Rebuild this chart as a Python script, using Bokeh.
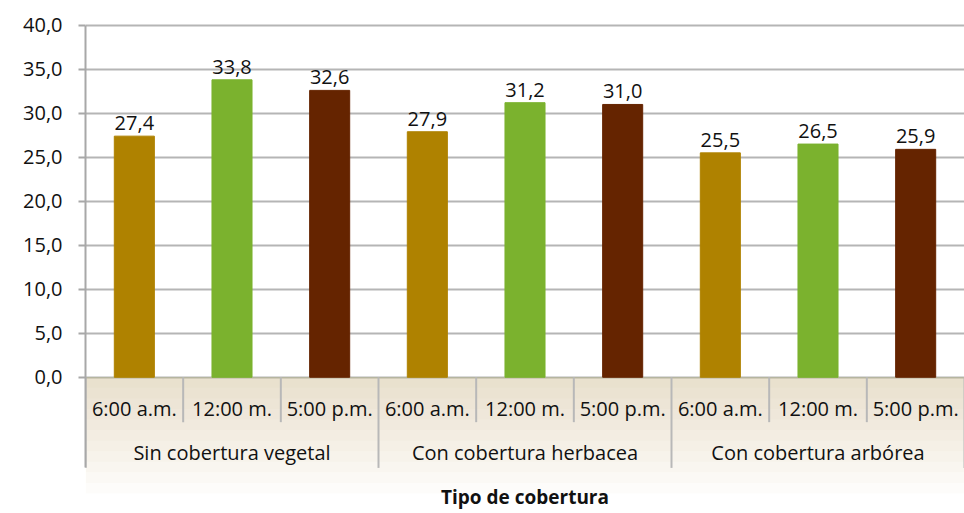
from bokeh.plotting import figure
from bokeh.models import (FactorRange, Range1d, ColumnDataSource, FixedTicker,
                          BoxAnnotation)
from bokeh.transform import dodge
from bokeh.core.properties import value
from bokeh.embed import file_html
from bokeh.resources import INLINE

# ---- data ----
groups = ["Sin cobertura vegetal", "Con cobertura herbacea", "Con cobertura arbórea"]
times = ["6:00 a.m.", "12:00 m.", "5:00 p.m."]
sin_vegetal = [27.4, 33.8, 32.6]
herbacea = [27.9, 31.2, 31.0]
arborea = [25.5, 26.5, 25.9]
y_ticks = [0, 5, 10, 15, 20, 25, 30, 35, 40]
y_tick_labels = ["0,0", "5,0", "10,0", "15,0", "20,0", "25,0", "30,0", "35,0", "40,0"]
x_title = "Tipo de cobertura"
time_colors = ["#AF8200", "#7BB22E", "#652400"]

FONT = "Open Sans"
series = [sin_vegetal, herbacea, arborea]
factors = [(g, t) for g in groups for t in times]
vals = [v for s in series for v in s]
colors = [time_colors[i % 3] for i in range(len(vals))]
labels = [f"{v:.1f}".replace(".", ",") for v in vals]

src = ColumnDataSource(dict(x=factors, top=vals, color=colors, label=labels,
                            time=[f[1] for f in factors]))

p = figure(width=964, height=513, output_backend="svg", toolbar_location=None,
           x_range=FactorRange(*factors, range_padding=0, factor_padding=0,
                               subgroup_padding=0, group_padding=0),
           y_range=Range1d(-15.48, 40.2),
           min_border_left=85, min_border_right=0, min_border_top=23,
           min_border_bottom=0)
p.outline_line_color = None
p.background_fill_color = "white"
p.border_fill_color = "white"

# soft beige glow under the axis
for k in range(11):
    p.add_layout(BoxAnnotation(top=0, bottom=-(k + 1) * 1.2, fill_color="#D9BF85",
                               fill_alpha=0.045, line_color=None, level="underlay"))

p.vbar(x="x", top="top", bottom=0, width=0.41, color="color", source=src)

p.text(x="x", y="top", text="label", source=src, text_align="center",
       text_baseline="alphabetic", y_offset=-13, text_font=value(FONT),
       text_font_size="20px", text_color="#111111")

# category labels
p.text(x="x", y=-3.5, text="time", source=src, text_align="center",
       text_baseline="middle", text_font=value(FONT), text_font_size="20px",
       text_color="#111111")
gsrc = ColumnDataSource(dict(x=[(g, times[1]) for g in groups], g=groups))
p.text(x="x", y=-8.6, text="g", source=gsrc, text_align="center",
       text_baseline="middle", text_font=value(FONT), text_font_size="20px",
       text_color="#111111")
tsrc = ColumnDataSource(dict(x=[(groups[1], times[1])], t=[x_title]))
p.text(x="x", y=-13.6, text="t", source=tsrc, text_align="center",
       text_baseline="middle", text_font=value(FONT), text_font_size="19px",
       text_font_style="bold", text_color="#111111")

# separators
sep_len = [-10.3 if i % 3 == 0 else -5.1 for i in range(len(factors))]
ssrc = ColumnDataSource(dict(x=factors, y1=sep_len))
p.segment(x0=dodge("x", -0.5, range=p.x_range), x1=dodge("x", -0.5, range=p.x_range),
          y0=0, y1="y1", source=ssrc, line_color="#B8B8B8", line_width=2)
esrc = ColumnDataSource(dict(x=[factors[-1]], y1=[-10.3]))
p.segment(x0=dodge("x", 0.5, range=p.x_range), x1=dodge("x", 0.5, range=p.x_range),
          y0=0, y1="y1", source=esrc, line_color="#B8B8B8", line_width=2)

p.xaxis.visible = False
p.xgrid.visible = False

yax = p.yaxis[0]
yax.ticker = FixedTicker(ticks=y_ticks)
yax.major_label_overrides = {t: l for t, l in zip(y_ticks, y_tick_labels)}
yax.bounds = (-10.3, 40)
yax.axis_line_color = "#A8A8A8"
yax.axis_line_width = 2
yax.major_tick_line_color = "#A8A8A8"
yax.major_tick_line_width = 2
yax.major_tick_out = 7
yax.major_tick_in = 0
yax.minor_tick_line_color = None
yax.major_label_standoff = 16
yax.major_label_text_font = FONT
yax.major_label_text_font_size = "20px"
yax.major_label_text_color = "#111111"

p.ygrid.ticker = FixedTicker(ticks=y_ticks)
p.ygrid.grid_line_color = "#B5B5B5"
p.ygrid.grid_line_width = 2

open("out.html", "w").write(file_html(p, INLINE))
